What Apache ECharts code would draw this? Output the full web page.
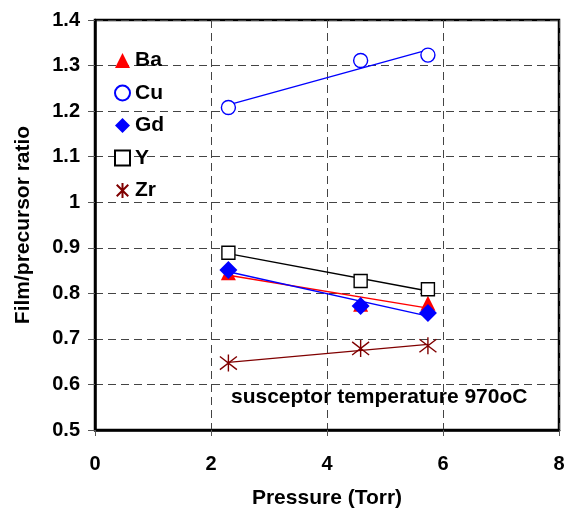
<!DOCTYPE html>
<html>
<head>
<meta charset="utf-8">
<script src="https://cdn.jsdelivr.net/npm/echarts@6/dist/echarts.min.js"></script>
<style>
  html, body { margin: 0; padding: 0; background: #fff; }
  #chart { width: 572px; height: 510px; }
</style>
</head>
<body>
<div id="chart"></div>
<script>
// Deposition pressures (Torr)
const pressure = [2.3, 4.58, 5.74];

// Film/precursor ratio for each element
const elements = ['Ba', 'Cu', 'Gd', 'Y', 'Zr'];
const ba = [0.845, 0.776, 0.778];
const cu = [1.208, 1.311, 1.323];
const gd = [0.851, 0.772, 0.757];
const yt = [0.889, 0.827, 0.809];
const zr = [0.647, 0.679, 0.685];

const xTicks = [0, 2, 4, 6, 8];
const yTicks = ['0.5', '0.6', '0.7', '0.8', '0.9', '1', '1.1', '1.2', '1.3', '1.4'];

const FONT = '"Liberation Sans", Arial, sans-serif';
const ASTERISK = 'path://M0,0L10,10M10,0L0,10M5,-1.5L5,11.5';

const styles = {
  Ba: { symbol: 'triangle', size: 15, item: { color: '#ff0000' }, line: '#ff0000' },
  Cu: { symbol: 'circle', size: 14, item: { color: '#ffffff', borderColor: '#0000ff', borderWidth: 1.4 }, line: '#0000ff' },
  Gd: { symbol: 'diamond', size: 18, item: { color: '#0000ff' }, line: '#0000ff' },
  Y:  { symbol: 'rect', size: 13, item: { color: '#ffffff', borderColor: '#000000', borderWidth: 1.4 }, line: '#000000' },
  Zr: { symbol: ASTERISK, size: 17, item: { color: 'rgba(0,0,0,0)', borderColor: '#800000', borderWidth: 1.4 }, line: '#800000' }
};

const values = { Ba: ba, Cu: cu, Gd: gd, Y: yt, Zr: zr };

// Least-squares straight line through a series, evaluated at the first and last pressure
function trend(xs, ys) {
  const n = xs.length;
  const mx = xs.reduce((a, b) => a + b, 0) / n;
  const my = ys.reduce((a, b) => a + b, 0) / n;
  let sxy = 0, sxx = 0;
  for (let i = 0; i < n; i++) {
    sxy += (xs[i] - mx) * (ys[i] - my);
    sxx += (xs[i] - mx) * (xs[i] - mx);
  }
  const k = sxy / sxx;
  const x0 = Math.min(...xs), x1 = Math.max(...xs);
  return [[x0, my + k * (x0 - mx)], [x1, my + k * (x1 - mx)]];
}

const series = [];
elements.forEach(name => {
  const s = styles[name];
  series.push({
    name: name + ' trend',
    type: 'line',
    data: trend(pressure, values[name]),
    symbol: 'none',
    lineStyle: { color: s.line, width: 1.4 },
    silent: true,
    z: 2
  });
});
elements.forEach(name => {
  const s = styles[name];
  series.push({
    name: name,
    type: 'scatter',
    data: pressure.map((p, i) => [p, values[name][i]]),
    symbol: s.symbol,
    symbolSize: s.size,
    itemStyle: Object.assign({ opacity: 1 }, s.item),
    z: 3
  });
});

const chart = echarts.init(document.getElementById('chart'), null, { renderer: 'canvas' });
chart.setOption({
  animation: false,
  backgroundColor: '#ffffff',
  grid: {
    left: 95, right: 13, top: 20, bottom: 80,
    outerBoundsMode: 'none',
    containLabel: false,
    show: true, borderColor: '#000', borderWidth: 2.5, backgroundColor: 'transparent'
  },
  legend: {
    data: elements,
    orient: 'vertical',
    left: 109,
    top: 45,
    itemWidth: 15,
    itemHeight: 15,
    itemGap: 11.5,
    textStyle: { fontFamily: FONT, fontWeight: 'bold', fontSize: 21, color: '#000' },
    selectedMode: false
  },
  xAxis: {
    type: 'value',
    min: 0, max: 8, interval: 2,
    name: 'Pressure (Torr)',
    nameLocation: 'middle',
    nameGap: 58,
    nameTextStyle: { fontFamily: FONT, fontWeight: 'bold', fontSize: 21, color: '#000' },
    axisLine: { show: true, onZero: false, lineStyle: { color: '#000', width: 2.5 } },
    axisTick: { show: true, inside: false, length: 6, lineStyle: { color: '#555', width: 1 } },
    axisLabel: {
      margin: 24, fontFamily: FONT, fontWeight: 'bold', fontSize: 20, color: '#000',
      formatter: v => String(xTicks.find(t => Math.abs(t - v) < 1e-9) ?? v)
    },
    splitLine: { show: true, lineStyle: { color: '#444', width: 1, type: [8, 5] } }
  },
  yAxis: {
    type: 'value',
    min: 0.5, max: 1.4, interval: 0.1,
    name: 'Film/precursor ratio',
    nameLocation: 'middle',
    nameGap: 61,
    nameTextStyle: { fontFamily: FONT, fontWeight: 'bold', fontSize: 21, color: '#000' },
    axisLine: { show: true, onZero: false, lineStyle: { color: '#000', width: 2.5 } },
    axisTick: { show: true, inside: false, length: 7, lineStyle: { color: '#555', width: 1 } },
    axisLabel: {
      margin: 15, fontFamily: FONT, fontWeight: 'bold', fontSize: 20, color: '#000',
      formatter: v => yTicks[Math.round((v - 0.5) * 10)]
    },
    splitLine: { show: true, lineStyle: { color: '#444', width: 1, type: [8, 5] } }
  },
  graphic: [{
    type: 'text',
    left: 231,
    top: 387,
    style: {
      text: 'susceptor temperature 970oC',
      fontFamily: FONT, fontWeight: 'bold', fontSize: 21, fill: '#000'
    }
  }],
  series: series
});
</script>
</body>
</html>
